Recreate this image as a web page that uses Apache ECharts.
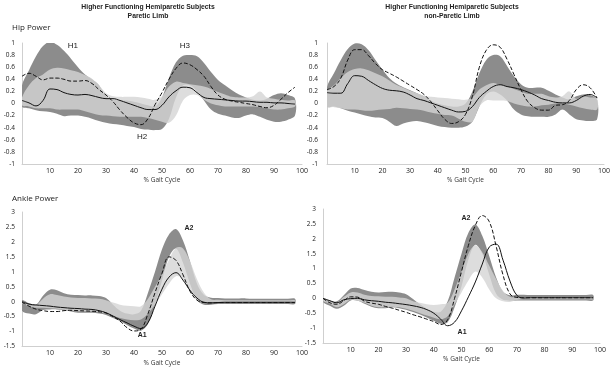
<!DOCTYPE html>
<html lang="en">
<head>
<meta charset="UTF-8">
<title>Hip and Ankle Power - Hemiparetic Subjects</title>
<script src="https://cdn.jsdelivr.net/npm/echarts@6/dist/echarts.min.js"></script>
<style>
  html, body { margin: 0; padding: 0; background: #fff; }
  #chart { width: 613px; height: 369px; }
</style>
</head>
<body>
<div id="chart"></div>
<script>
  // % gait cycle sample points, shared by all four panels
  const gaitX = [0, 2.5, 5, 7.5, 10, 12.5, 15, 17.5, 20, 22.5, 25, 27.5, 30, 32.5, 35, 37.5, 40, 42.5, 45, 47.5,
    50, 52.5, 55, 57.5, 60, 62.5, 65, 67.5, 70, 72.5, 75, 77.5, 80, 82.5, 85, 87.5, 90, 92.5, 95, 97.5];

  // ---------------- Hip power, paretic limb ----------------
  const hipParDarkHi = [0.3, 0.55, 0.78, 0.95, 1.02, 0.97, 0.87, 0.74, 0.6, 0.48, 0.4, 0.3, 0.12, 0.06, 0.05, 0.05, 0.03, 0.0, -0.03, -0.05,
    0.1, 0.42, 0.68, 0.79, 0.8, 0.78, 0.67, 0.52, 0.39, 0.3, 0.22, 0.15, 0.1, 0.06, 0.05, 0.08, 0.14, 0.17, 0.14, 0.08];
  const hipParDarkLo = [-0.05, -0.08, -0.11, -0.13, -0.14, -0.17, -0.21, -0.2, -0.2, -0.22, -0.25, -0.29, -0.32, -0.34, -0.35, -0.37, -0.39, -0.42, -0.43, -0.44,
    -0.42, -0.25, 0.1, 0.3, 0.3, 0.2, 0.05, -0.1, -0.17, -0.2, -0.23, -0.24, -0.2, -0.18, -0.22, -0.27, -0.3, -0.3, -0.27, -0.2];
  const hipParLightHi = [0.1, 0.3, 0.42, 0.48, 0.56, 0.59, 0.58, 0.55, 0.52, 0.47, 0.41, 0.3, 0.17, 0.12, 0.11, 0.11, 0.11, 0.1, 0.08, 0.06,
    0.12, 0.28, 0.36, 0.34, 0.32, 0.3, 0.28, 0.24, 0.19, 0.15, 0.11, 0.1, 0.1, 0.12, 0.2, 0.1, 0.08, 0.06, 0.05, 0.05];
  const hipParLightLo = [-0.03, -0.05, -0.08, -0.08, -0.08, -0.1, -0.1, -0.1, -0.1, -0.13, -0.16, -0.19, -0.2, -0.21, -0.22, -0.22, -0.22, -0.22, -0.24, -0.27,
    -0.3, -0.32, -0.2, 0.05, 0.14, 0.14, 0.06, 0.0, -0.03, -0.05, -0.05, -0.05, -0.05, -0.05, -0.06, -0.08, -0.1, -0.1, -0.08, -0.05];
  const hipParSolid = [0.05, 0.01, -0.04, 0.05, 0.24, 0.23, 0.18, 0.15, 0.14, 0.15, 0.13, 0.1, 0.08, 0.08, 0.05, 0.01, -0.03, -0.07, -0.1, -0.1,
    -0.03, 0.11, 0.21, 0.27, 0.26, 0.18, 0.1, 0.08, 0.07, 0.06, 0.05, 0.04, 0.04, 0.03, 0.02, 0.02, 0.01, 0.01, 0.0, -0.01];
  const hipParDashed = [0.45, 0.5, 0.45, 0.39, 0.42, 0.42, 0.4, 0.37, 0.37, 0.38, 0.33, 0.23, 0.14, 0.03, -0.11, -0.23, -0.32, -0.35, -0.25, -0.02,
    0.18, 0.4, 0.58, 0.67, 0.64, 0.56, 0.45, 0.28, 0.14, 0.07, 0.04, 0.02, 0.0, -0.02, -0.05, -0.07, -0.03, 0.07, 0.18, 0.27];
  const hipParNotes = [['H1', 18.2, 0.95], ['H3', 58.2, 0.95], ['H2', 42.9, -0.55]];

  // ---------------- Hip power, non-paretic limb ----------------
  const hipNonDarkHi = [0.27, 0.5, 0.72, 0.9, 0.99, 0.98, 0.88, 0.72, 0.56, 0.42, 0.33, 0.27, 0.22, 0.17, 0.12, 0.05, 0.0, -0.03, -0.05, -0.05,
    0.0, 0.2, 0.5, 0.72, 0.8, 0.78, 0.62, 0.45, 0.32, 0.26, 0.26, 0.26, 0.21, 0.15, 0.1, 0.07, 0.12, 0.15, 0.14, 0.06];
  const hipNonDarkLo = [-0.05, -0.05, -0.08, -0.12, -0.15, -0.18, -0.21, -0.23, -0.24, -0.3, -0.37, -0.33, -0.3, -0.29, -0.31, -0.34, -0.37, -0.39, -0.4, -0.4,
    -0.38, -0.3, -0.05, 0.15, 0.2, 0.15, 0.05, -0.1, -0.18, -0.21, -0.22, -0.22, -0.22, -0.18, -0.1, -0.18, -0.26, -0.28, -0.29, -0.26];
  const hipNonLightHi = [0.2, 0.3, 0.42, 0.52, 0.57, 0.58, 0.55, 0.5, 0.45, 0.38, 0.31, 0.26, 0.21, 0.17, 0.13, 0.11, 0.1, 0.09, 0.08, 0.07,
    0.06, 0.1, 0.23, 0.3, 0.34, 0.31, 0.28, 0.24, 0.2, 0.16, 0.16, 0.16, 0.12, 0.1, 0.12, 0.2, 0.08, 0.12, 0.1, 0.08];
  const hipNonLightLo = [-0.05, -0.06, -0.08, -0.1, -0.1, -0.11, -0.12, -0.11, -0.1, -0.09, -0.07, -0.08, -0.09, -0.1, -0.12, -0.15, -0.17, -0.19, -0.2, -0.25,
    -0.3, -0.3, -0.05, 0.05, 0.05, 0.05, 0.04, 0.0, -0.03, -0.05, -0.05, -0.03, -0.02, 0.0, 0.0, -0.02, -0.05, -0.08, -0.1, -0.1];
  const hipNonSolid = [0.18, 0.17, 0.17, 0.33, 0.46, 0.45, 0.38, 0.31, 0.25, 0.22, 0.21, 0.19, 0.14, 0.08, 0.05, 0.01, -0.03, -0.07, -0.11, -0.14,
    -0.13, -0.05, 0.1, 0.2, 0.28, 0.31, 0.28, 0.26, 0.23, 0.19, 0.14, 0.08, 0.05, 0.02, 0.01, 0.01, 0.05, 0.12, 0.15, 0.09];
  const hipNonDashed = [0.23, 0.28, 0.42, 0.72, 0.89, 0.89, 0.79, 0.66, 0.56, 0.5, 0.44, 0.37, 0.3, 0.23, 0.15, 0.03, -0.12, -0.26, -0.33, -0.3,
    -0.18, 0.12, 0.6, 0.88, 0.97, 0.93, 0.73, 0.48, 0.23, 0.03, -0.07, -0.11, -0.11, -0.03, -0.02, 0.05, 0.23, 0.31, 0.26, 0.09];
  const hipNonNotes = [['H1', 11.2, 1.17]];

  // ---------------- Ankle power, paretic limb ----------------
  const ankParDarkHi = [0.05, -0.05, -0.1, 0.2, 0.4, 0.38, 0.28, 0.23, 0.22, 0.21, 0.21, 0.19, 0.12, -0.1, -0.3, -0.4, -0.42, -0.3, 0.3, 1.0,
    1.75, 2.25, 2.43, 2.05, 1.35, 0.6, 0.22, 0.13, 0.12, 0.11, 0.11, 0.11, 0.11, 0.1, 0.1, 0.1, 0.1, 0.1, 0.1, 0.1];
  const ankParDarkLo = [-0.3, -0.4, -0.42, -0.28, -0.26, -0.26, -0.28, -0.33, -0.37, -0.37, -0.37, -0.4, -0.45, -0.55, -0.65, -0.78, -0.9, -0.97, -0.75, -0.1,
    0.7, 1.5, 1.78, 1.3, 0.6, 0.05, -0.1, -0.1, -0.08, -0.08, -0.08, -0.08, -0.08, -0.08, -0.08, -0.08, -0.08, -0.08, -0.08, -0.08];
  const ankParLightHi = [0.0, -0.1, -0.12, 0.1, 0.25, 0.22, 0.17, 0.14, 0.12, 0.12, 0.11, 0.1, 0.05, -0.03, -0.1, -0.14, -0.15, -0.15, 0.1, 0.5,
    0.9, 1.4, 1.8, 1.78, 1.35, 0.75, 0.3, 0.08, 0.06, 0.05, 0.05, 0.05, 0.05, 0.05, 0.05, 0.05, 0.05, 0.05, 0.05, 0.05];
  const ankParLightLo = [-0.05, -0.15, -0.2, -0.2, -0.22, -0.24, -0.27, -0.3, -0.32, -0.32, -0.32, -0.35, -0.4, -0.48, -0.55, -0.6, -0.62, -0.6, -0.4, -0.1,
    0.25, 0.6, 0.85, 0.75, 0.35, 0.05, -0.05, -0.03, -0.03, -0.03, -0.03, -0.03, -0.03, -0.03, -0.03, -0.03, -0.03, -0.03, -0.03, -0.03];
  const ankParSolid = [0.0, -0.08, -0.11, -0.13, -0.15, -0.18, -0.2, -0.22, -0.23, -0.25, -0.26, -0.3, -0.37, -0.48, -0.6, -0.71, -0.82, -0.9, -0.7, -0.15,
    0.42, 0.82, 0.97, 0.72, 0.38, 0.12, -0.02, -0.04, -0.03, -0.02, -0.02, -0.02, -0.02, -0.02, -0.02, -0.02, -0.02, -0.02, -0.02, -0.02];
  const ankParDashed = [-0.02, -0.15, -0.25, -0.3, -0.33, -0.33, -0.3, -0.29, -0.3, -0.31, -0.32, -0.34, -0.38, -0.5, -0.65, -0.87, -0.98, -0.92, -0.4, 0.3,
    0.95, 1.5, 1.38, 0.9, 0.35, 0.05, -0.03, -0.04, -0.03, -0.03, -0.03, -0.03, -0.03, -0.03, -0.03, -0.03, -0.03, -0.03, -0.03, -0.03];
  const ankParNotes = [['A2', 59.6, 2.46], ['A1', 42.9, -1.11]];

  // ---------------- Ankle power, non-paretic limb ----------------
  const ankNonDarkHi = [0.0, -0.08, -0.1, 0.1, 0.33, 0.35, 0.28, 0.22, 0.2, 0.21, 0.22, 0.2, 0.14, -0.02, -0.2, -0.35, -0.45, -0.45, -0.1, 0.7,
    1.5, 2.2, 2.48, 2.1, 1.42, 0.7, 0.22, 0.1, 0.12, 0.12, 0.11, 0.11, 0.11, 0.11, 0.11, 0.11, 0.11, 0.11, 0.11, 0.11];
  const ankNonDarkLo = [-0.12, -0.25, -0.35, -0.25, -0.07, -0.08, -0.18, -0.28, -0.33, -0.33, -0.3, -0.33, -0.38, -0.46, -0.54, -0.64, -0.75, -0.85, -0.8, -0.3,
    0.4, 1.3, 1.8, 1.5, 0.8, 0.15, -0.05, -0.08, -0.07, -0.07, -0.07, -0.07, -0.07, -0.07, -0.07, -0.07, -0.07, -0.07, -0.07, -0.07];
  const ankNonLightHi = [-0.02, -0.1, -0.15, 0.05, 0.2, 0.2, 0.12, 0.08, 0.07, 0.05, 0.05, 0.03, 0.0, -0.1, -0.15, -0.2, -0.22, -0.2, -0.15, 0.3,
    0.9, 1.5, 1.78, 1.55, 1.1, 0.65, 0.25, 0.05, 0.04, 0.04, 0.04, 0.04, 0.04, 0.04, 0.04, 0.04, 0.04, 0.04, 0.04, 0.04];
  const ankNonLightLo = [-0.1, -0.18, -0.3, -0.2, -0.05, -0.08, -0.15, -0.25, -0.3, -0.3, -0.28, -0.3, -0.35, -0.42, -0.5, -0.58, -0.65, -0.7, -0.6, -0.2,
    0.2, 0.6, 0.9, 0.7, 0.3, 0.0, -0.1, -0.12, -0.06, -0.03, -0.03, -0.03, -0.03, -0.03, -0.03, -0.03, -0.03, -0.03, -0.03, -0.03];
  const ankNonSolid = [0.0, -0.08, -0.15, -0.05, -0.01, 0.0, -0.05, -0.08, -0.1, -0.13, -0.15, -0.18, -0.21, -0.25, -0.3, -0.38, -0.5, -0.7, -0.92, -0.8,
    -0.42, 0.05, 0.55, 1.15, 1.72, 1.82, 1.28, 0.58, 0.1, 0.01, 0.02, 0.02, 0.02, 0.02, 0.02, 0.02, 0.02, 0.02, 0.02, 0.02];
  const ankNonDashed = [0.0, -0.15, -0.2, -0.08, 0.05, 0.04, -0.1, -0.16, -0.2, -0.27, -0.33, -0.4, -0.47, -0.55, -0.62, -0.7, -0.78, -0.88, -0.72, 0.0,
    0.9, 1.78, 2.45, 2.78, 2.58, 1.75, 0.78, 0.15, 0.03, 0.02, 0.02, 0.02, 0.02, 0.02, 0.02, 0.02, 0.02, 0.02, 0.02, 0.02];
  const ankNonNotes = [['A2', 51.6, 2.69], ['A1', 50.2, -1.13]];

  const DARK = '#8c8c8c';
  const LIGHT = 'rgba(212,212,212,0.8)';
  const TXT = '#222';

  const panels = [
    { dLo: hipParDarkLo, dHi: hipParDarkHi, lLo: hipParLightLo, lHi: hipParLightHi, solid: hipParSolid, dashed: hipParDashed, notes: hipParNotes, bold: false },
    { dLo: hipNonDarkLo, dHi: hipNonDarkHi, lLo: hipNonLightLo, lHi: hipNonLightHi, solid: hipNonSolid, dashed: hipNonDashed, notes: hipNonNotes, bold: false },
    { dLo: ankParDarkLo, dHi: ankParDarkHi, lLo: ankParLightLo, lHi: ankParLightHi, solid: ankParSolid, dashed: ankParDashed, notes: ankParNotes, bold: true },
    { dLo: ankNonDarkLo, dHi: ankNonDarkHi, lLo: ankNonLightLo, lHi: ankNonLightHi, solid: ankNonSolid, dashed: ankNonDashed, notes: ankNonNotes, bold: true }
  ];

  function pts(ys) {
    return gaitX.map((x, i) => [x, ys[i]]);
  }

  // shaded range: one polygon, upper edge forward then lower edge back
  function band(idx, lo, hi, color) {
    return {
      type: 'custom', xAxisIndex: idx, yAxisIndex: idx, silent: true, clip: true,
      data: gaitX.map((x, i) => [x, lo[i], hi[i]]),
      encode: { x: 0, y: [1, 2] },
      renderItem: function (params, api) {
        if (params.dataIndex !== 0) return null;
        const top = [], bottom = [];
        for (let k = 0; k < gaitX.length; k++) {
          top.push(api.coord([api.value(0, k), api.value(2, k)]));
          bottom.push(api.coord([api.value(0, k), api.value(1, k)]));
        }
        return {
          type: 'polygon',
          shape: { points: top.concat(bottom.reverse()), smooth: 0.35 },
          style: { fill: color, stroke: null }
        };
      }
    };
  }

  const series = [];
  panels.forEach((p, i) => {
    series.push(band(i, p.dLo, p.dHi, DARK));
    series.push(band(i, p.lLo, p.lHi, LIGHT));
    series.push({
      type: 'line', xAxisIndex: i, yAxisIndex: i, data: pts(p.solid),
      smooth: 0.4, symbol: 'none', silent: true,
      lineStyle: { color: '#111', width: 1 },
      markPoint: {
        symbol: 'circle', symbolSize: 1,
        itemStyle: { color: 'rgba(0,0,0,0)' },
        label: {
          show: true, position: 'inside', formatter: '{b}',
          color: TXT, fontSize: p.bold ? 7 : 8,
          fontWeight: p.bold ? 'bold' : 'normal',
          fontFamily: 'Liberation Sans'
        },
        data: p.notes.map(n => ({ name: n[0], coord: [n[1], n[2]] }))
      }
    });
    series.push({
      type: 'line', xAxisIndex: i, yAxisIndex: i, data: pts(p.dashed),
      smooth: 0.4, symbol: 'none', silent: true,
      lineStyle: { color: '#111', width: 1, type: [4, 2] }
    });
  });

  const grids = [
    { left: 22, top: 43, width: 280, height: 121 },
    { left: 327, top: 43, width: 277, height: 121 },
    { left: 22, top: 212, width: 280, height: 134.5 },
    { left: 323, top: 209, width: 277, height: 134 }
  ];

  const xAxes = grids.map((g, i) => ({
    gridIndex: i, type: 'value', min: 0, max: 100, interval: 10,
    name: '% Gait Cycle', nameLocation: 'middle', nameGap: 13,
    nameTextStyle: { fontSize: 6.5, color: '#333', fontFamily: 'Open Sans' },
    axisLine: { show: true, onZero: false, lineStyle: { color: '#cfcfcf' } },
    axisTick: { show: false },
    splitLine: { show: false },
    axisLabel: {
      fontSize: 7, color: TXT, margin: 3, fontFamily: 'Open Sans',
      formatter: v => (v === 0 ? '' : String(v))
    }
  }));

  const yAxes = grids.map((g, i) => {
    const hip = i < 2;
    return {
      gridIndex: i, type: 'value',
      min: hip ? -1 : -1.5, max: hip ? 1 : 3, interval: hip ? 0.2 : 0.5,
      axisLine: { show: true, onZero: false, lineStyle: { color: '#cfcfcf' } },
      axisTick: { show: false },
      splitLine: { show: false },
      axisLabel: { fontSize: 6.5, color: TXT, margin: i === 1 ? 9 : 7, fontFamily: 'Open Sans' }
    };
  });

  const chart = echarts.init(document.getElementById('chart'), null, { renderer: 'canvas' });
  chart.setOption({
    animation: false,
    backgroundColor: '#fff',
    grid: grids.map(g => Object.assign({ containLabel: false, outerBoundsMode: 'none' }, g)),
    xAxis: xAxes,
    yAxis: yAxes,
    graphic: [
      { type: 'text', x: 148, y: 3, style: { text: 'Higher Functioning Hemiparetic Subjects\nParetic Limb', textAlign: 'center', fill: TXT, font: 'bold 6.8px "Liberation Sans"', lineHeight: 9 } },
      { type: 'text', x: 452, y: 3, style: { text: 'Higher Functioning Hemiparetic Subjects\nnon-Paretic Limb', textAlign: 'center', fill: TXT, font: 'bold 6.8px "Liberation Sans"', lineHeight: 9 } },
      { type: 'text', x: 12, y: 24, style: { text: 'Hip Power', fill: TXT, font: '8px "Open Sans"' } },
      { type: 'text', x: 12, y: 195, style: { text: 'Ankle Power', fill: TXT, font: '8px "Open Sans"' } }
    ],
    series: series
  });
</script>
</body>
</html>
